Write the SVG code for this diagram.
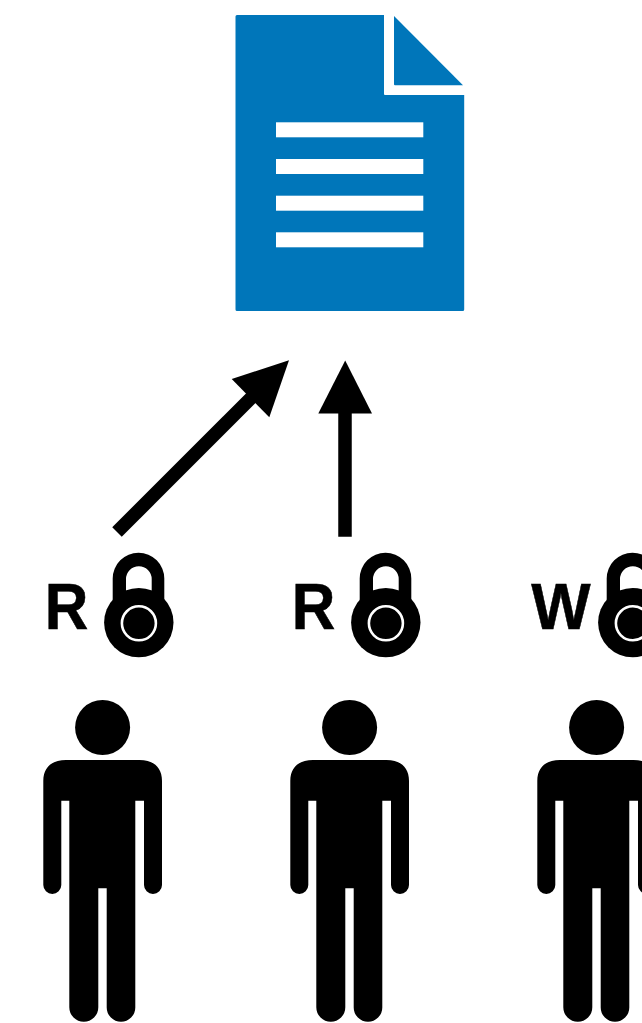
<svg xmlns="http://www.w3.org/2000/svg" width="642" height="1023" viewBox="0 0 642 1023">
  <style>
    .doc { fill: #0076ba; }
    .line { fill: #ffffff; }
    .ink { fill: #000000; }
    .ring { fill: none; stroke: #ffffff; stroke-width: 2.6; }
    .label { font-family: "Liberation Sans", Arial, sans-serif; font-weight: 700; font-size: 65px; fill: #000000; stroke: #000000; stroke-width: 0.5; }
    .shaft { stroke: #000000; stroke-width: 13.5; fill: none; }
  </style>
  <defs>
    <g id="person">
      <circle class="ink" cx="102.6" cy="727.5" r="27.5"/>
      <path class="ink" d="M66 760H139.5C153 760 162 767 162 781V885A9 9 0 0 1 144 885V800.7H135.3V1007.4A14.3 14.3 0 0 1 106.7 1007.4V888.3H98.3V1007.2A14.5 14.5 0 0 1 69.3 1007.2V800.7H61.3V885A9 9 0 0 1 43.3 885V781C43.3 767 52.3 760 66 760Z"/>
    </g>
    <g id="lock">
      <path class="ink" fill-rule="evenodd" d="M112.7 600V578.5A25.8 25.8 0 0 1 164.3 578.5V600ZM126 592V579A12.85 12.85 0 0 1 151.7 579V592Z"/>
      <circle class="ink" cx="138.8" cy="622.6" r="34.7"/>
      <circle class="ring" cx="138.9" cy="623.3" r="17"/>
    </g>
  </defs>
  <g id="document">
    <path class="doc" d="M237 15H384V94Q384 95 385 95H464.2V309.5Q464.2 311 462.7 311H237Q235.5 311 235.5 309.5V16.5Q235.5 15 237 15Z"/>
    <path class="doc" d="M394 16L463 85.3H395Q394 85.3 394 84.3Z"/>
    <rect class="line" x="276" y="122.3" width="147.3" height="15"/>
    <rect class="line" x="276" y="159" width="147.3" height="15"/>
    <rect class="line" x="276" y="195.7" width="147.3" height="15"/>
    <rect class="line" x="276" y="232.3" width="147.3" height="15"/>
  </g>
  <g id="connectors">
    <g id="arrow-diagonal">
      <line class="shaft" x1="117" y1="532" x2="260" y2="389"/>
      <polygon class="ink" points="289,360.3 231.7,379 269.3,417.3"/>
    </g>
    <g id="arrow-vertical">
      <line class="shaft" x1="345" y1="536.8" x2="345" y2="405"/>
      <polygon class="ink" points="345.2,360.5 318.3,413.5 372,413.5"/>
    </g>
  </g>
  <g id="reader-1">
    <text class="label" x="44.8" y="629" textLength="43.6" lengthAdjust="spacingAndGlyphs">R</text>
    <use href="#lock"/>
    <use href="#person"/>
  </g>
  <g id="reader-2">
    <text class="label" x="291.8" y="629" textLength="43.6" lengthAdjust="spacingAndGlyphs">R</text>
    <use href="#lock" x="247"/>
    <use href="#person" x="247"/>
  </g>
  <g id="writer">
    <text class="label" x="531.2" y="629" textLength="59.4" lengthAdjust="spacingAndGlyphs">W</text>
    <use href="#lock" x="494"/>
    <use href="#person" x="494"/>
  </g>
</svg>
